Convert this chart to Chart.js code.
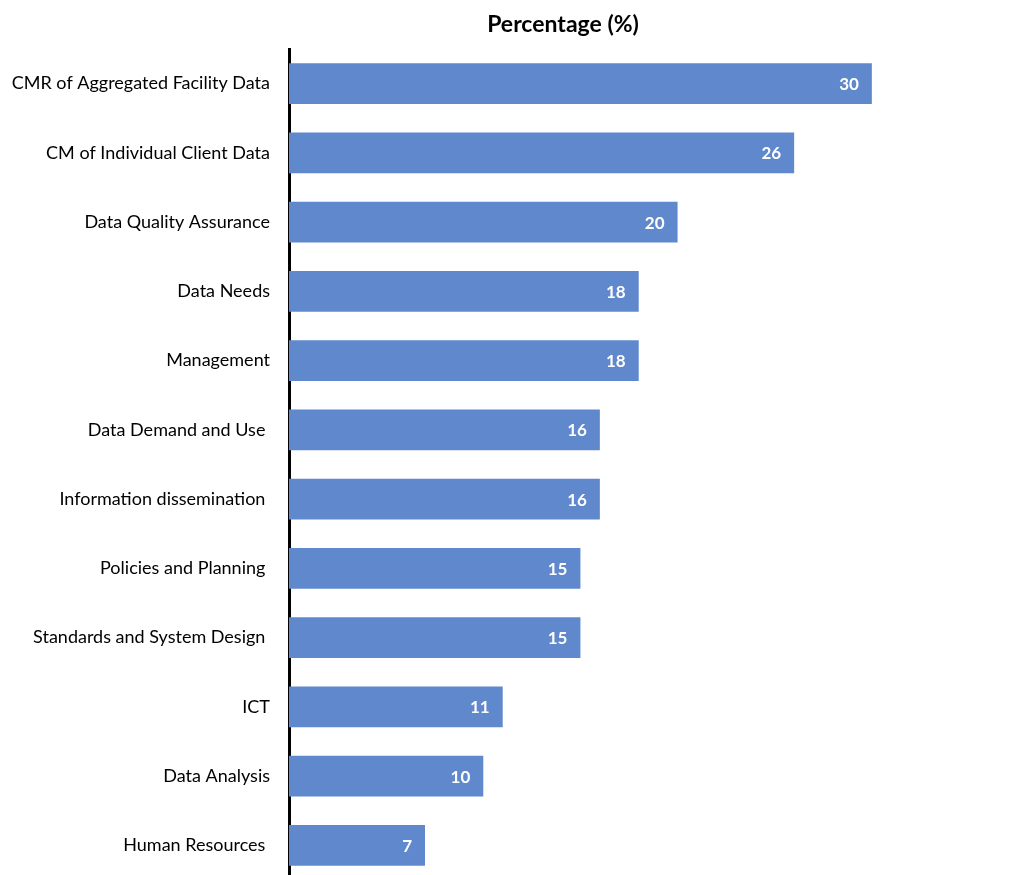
<!DOCTYPE html>
<html>
<head>
<meta charset="utf-8">
<script src="https://cdn.jsdelivr.net/npm/chart.js@4.4.1/dist/chart.umd.min.js"></script>
<style>
  html, body { margin: 0; padding: 0; background: #fff; overflow: hidden; }
  canvas { display: block; }
</style>
</head>
<body>
<canvas id="barChart" width="1016" height="880"></canvas>
<script>
const categories = [
  'CMR of Aggregated Facility Data',
  'CM of Individual Client Data',
  'Data Quality Assurance',
  'Data Needs',
  'Management',
  'Data Demand and Use ',
  'Information dissemination ',
  'Policies and Planning ',
  'Standards and System Design ',
  'ICT',
  'Data Analysis',
  'Human Resources '
];
const percentages = [30, 26, 20, 18, 18, 16, 16, 15, 15, 11, 10, 7];
const chartTitle = 'Percentage (%)';

// white value labels at the inner end of each bar
const valueLabels = {
  id: 'valueLabels',
  afterDatasetsDraw(chart) {
    const ctx = chart.ctx;
    const meta = chart.getDatasetMeta(0);
    ctx.save();
    ctx.fillStyle = '#ffffff';
    ctx.font = 'bold 17px Lato';
    ctx.textAlign = 'right';
    ctx.textBaseline = 'middle';
    meta.data.forEach((bar, i) => {
      ctx.fillText(String(percentages[i]), bar.x - 13, bar.y + 1);
    });
    ctx.restore();
  }
};

// title sits a bit left of the plot centre in the original
const topTitle = {
  id: 'topTitle',
  afterDraw(chart) {
    const ctx = chart.ctx;
    ctx.save();
    ctx.fillStyle = '#000000';
    ctx.font = 'bold 23px Lato';
    ctx.textAlign = 'center';
    ctx.textBaseline = 'middle';
    ctx.fillText(chartTitle, 563, 25);
    ctx.restore();
  }
};

const ctx = document.getElementById('barChart');
new Chart(ctx, {
  type: 'bar',
  data: {
    labels: categories,
    datasets: [{
      data: percentages,
      backgroundColor: '#6088cd',
      borderWidth: 0,
      barPercentage: 0.59,
      categoryPercentage: 1
    }]
  },
  options: {
    indexAxis: 'y',
    responsive: false,
    animation: false,
    layout: { padding: { top: 49, right: 47, bottom: 0, left: 0 } },
    plugins: {
      legend: { display: false },
      tooltip: { enabled: false },
      title: { display: false }
    },
    scales: {
      x: {
        display: false,
        min: 0,
        max: 35
      },
      y: {
        afterFit(scale) {
          scale.width = 289;
          scale.paddingTop = 0;
          scale.paddingBottom = 0;
        },
        grid: { display: false, drawTicks: false },
        border: { display: true, color: '#000000', width: 3 },
        ticks: {
          color: '#000000',
          padding: 19,
          font: { family: 'Lato', size: 18 }
        }
      }
    }
  },
  plugins: [valueLabels, topTitle]
});
</script>
</body>
</html>
